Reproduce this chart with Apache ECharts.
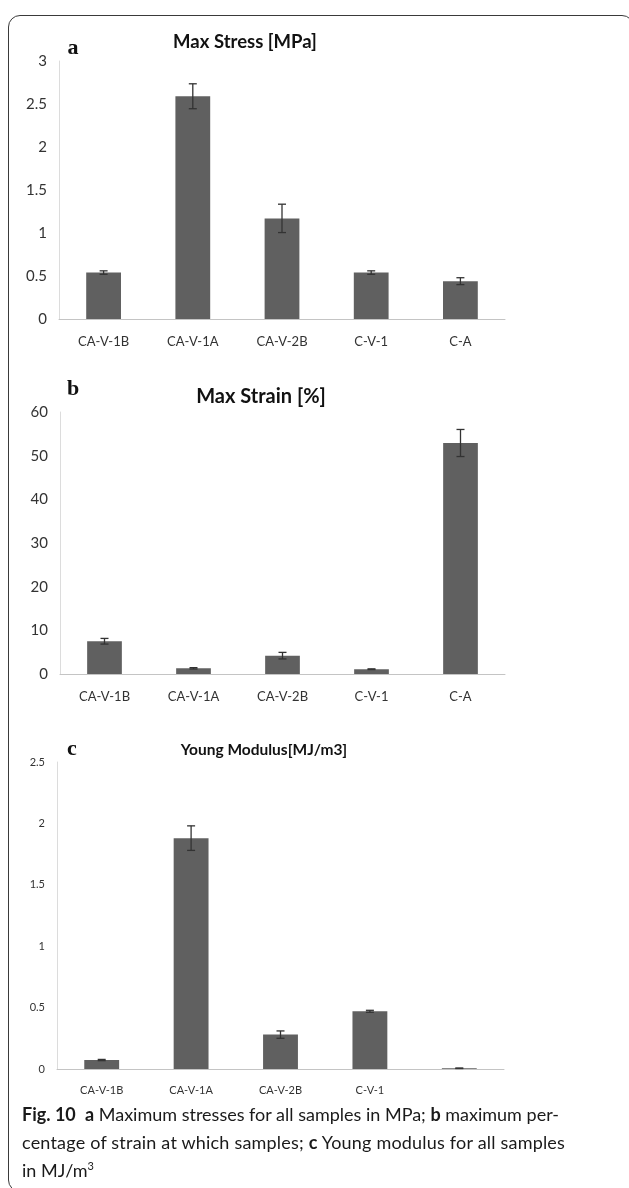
<!DOCTYPE html>
<html>
<head>
<meta charset="utf-8">
<script src="https://cdn.jsdelivr.net/npm/echarts@6/dist/echarts.min.js"></script>
<style>
  html, body { margin: 0; padding: 0; background: #ffffff; }
  #wrap { position: relative; width: 629px; height: 1188px; overflow: hidden; }
  #frame {
    position: absolute; left: 8px; top: 15px; width: 626px; height: 1177px;
    border: 1.5px solid #3a3a3a; border-radius: 12px; box-sizing: border-box;
  }
  #chart { position: absolute; left: 0; top: 0; width: 629px; height: 1188px; }
  #caption {
    position: absolute; left: 22px; top: 1100px; width: 600px;
    font-family: "Lato", "Open Sans", sans-serif; font-size: 18px; line-height: 28px;
    color: #1a1a1a; white-space: nowrap;
  }
  #caption b { font-weight: 700; }
  #caption sup { font-size: 11px; vertical-align: 7px; line-height: 0; }
</style>
</head>
<body>
<div id="wrap">
  <div id="frame"></div>
  <div id="chart"></div>
  <div id="caption">
    <b>Fig. 10</b>&nbsp; <b>a</b> Maximum stresses for all samples in MPa; <b>b</b> maximum per-<br>
    <span style="letter-spacing:0.2px">centage of strain at which samples; <b>c</b> Young modulus for all samples</span><br>
    in MJ/m<sup>3</sup>
  </div>
</div>
<script>
// Sample names
const stressCats = ["CA-V-1B", "CA-V-1A", "CA-V-2B", "C-V-1", "C-A"];
const strainCats = ["CA-V-1B", "CA-V-1A", "CA-V-2B", "C-V-1", "C-A"];
const modulusCats = ["CA-V-1B", "CA-V-1A", "CA-V-2B", "C-V-1", ""];

// Max stress [MPa] and its spread
const stressVals = [0.54, 2.59, 1.17, 0.54, 0.44];
const stressErr = [0.02, 0.145, 0.165, 0.02, 0.04];

// Max strain [%] and its spread
const strainVals = [7.5, 1.3, 4.2, 1.1, 52.9];
const strainErr = [0.65, 0.15, 0.75, 0.08, 3.1];

// Young modulus [MJ/m3] and its spread
const modulusVals = [0.073, 1.88, 0.28, 0.47, 0.006];
const modulusErr = [0.005, 0.1, 0.03, 0.008, 0.002];

// Panel headings
const panelTitles = ["Max Stress [MPa]", "Max Strain [%]", "Young Modulus[MJ/m3]"];
const panelLetters = ["a", "b", "c"];

const BAR = "#606060";
const ERR = "#333333";
const FONT = "Lato, 'Open Sans', sans-serif";

const panels = [
  { cats: stressCats, vals: stressVals, err: stressErr, max: 3, step: 0.5,
    grid: { left: 59, top: 61, width: 446, height: 258 },
    yFont: 15, xFont: 13, title: { x: 245, y: 42, size: 18.5 }, letter: { x: 73, y: 48 } },
  { cats: strainCats, vals: strainVals, err: strainErr, max: 60, step: 10,
    grid: { left: 60, top: 412, width: 445, height: 262 },
    yFont: 15, xFont: 13, title: { x: 261, y: 397, size: 20 }, letter: { x: 73, y: 389 } },
  { cats: modulusCats, vals: modulusVals, err: modulusErr, max: 2.5, step: 0.5,
    grid: { left: 57, top: 762, width: 447, height: 307 },
    yFont: 11, xFont: 11, title: { x: 264, y: 750, size: 15.5 }, letter: { x: 72, y: 749 } }
];

const grids = [], xAxes = [], yAxes = [], series = [], graphics = [];

panels.forEach((p, i) => {
  grids.push(Object.assign({ containLabel: false }, p.grid));
  xAxes.push({
    type: "category", gridIndex: i, data: p.cats,
    axisLine: { lineStyle: { color: "#c4c4c4", width: 1 } },
    axisTick: { show: false },
    axisLabel: { color: "#333", fontFamily: FONT, fontSize: p.xFont, margin: 16, interval: 0 }
  });
  yAxes.push({
    type: "value", gridIndex: i, min: 0, max: p.max, interval: p.step,
    axisLine: { show: true, lineStyle: { color: "#dcdcdc", width: 1 } },
    axisTick: { show: false },
    splitLine: { show: false },
    axisLabel: { color: "#333", fontFamily: FONT, fontSize: p.yFont, margin: 12 }
  });
  series.push({
    type: "bar", xAxisIndex: i, yAxisIndex: i, data: p.vals,
    barWidth: "39%", itemStyle: { color: BAR }, silent: true
  });
  series.push({
    type: "custom", xAxisIndex: i, yAxisIndex: i, silent: true,
    data: p.vals.map((v, k) => [k, v - p.err[k], v + p.err[k]]),
    encode: { x: 0, y: [1, 2] },
    renderItem: function (params, api) {
      const idx = api.value(0);
      const lo = api.coord([idx, api.value(1)]);
      const hi = api.coord([idx, api.value(2)]);
      const half = 4;
      const style = { stroke: ERR, lineWidth: 1.3 };
      return {
        type: "group",
        children: [
          { type: "line", shape: { x1: hi[0], y1: hi[1], x2: lo[0], y2: lo[1] }, style: style },
          { type: "line", shape: { x1: hi[0] - half, y1: hi[1], x2: hi[0] + half, y2: hi[1] }, style: style },
          { type: "line", shape: { x1: lo[0] - half, y1: lo[1], x2: lo[0] + half, y2: lo[1] }, style: style }
        ]
      };
    },
    z: 5
  });
  graphics.push({
    type: "text", x: p.title.x, y: p.title.y,
    style: { text: panelTitles[i], font: "bold " + p.title.size + "px " + FONT,
             fill: "#111", textAlign: "center", textVerticalAlign: "middle" }
  });
  graphics.push({
    type: "text", x: p.letter.x, y: p.letter.y,
    style: { text: panelLetters[i], font: "bold 22px 'Liberation Serif', 'DejaVu Serif', serif",
             fill: "#111", textAlign: "center", textVerticalAlign: "middle" }
  });
});

const chart = echarts.init(document.getElementById("chart"), null, { renderer: "canvas" });
chart.setOption({
  animation: false,
  backgroundColor: "transparent",
  grid: grids,
  xAxis: xAxes,
  yAxis: yAxes,
  series: series,
  graphic: graphics
});
</script>
</body>
</html>
